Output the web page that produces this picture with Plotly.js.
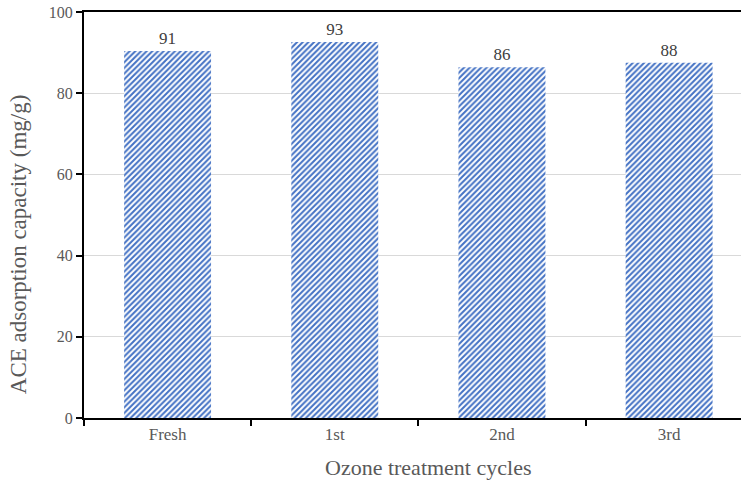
<!DOCTYPE html>
<html>
<head>
<meta charset="utf-8">
<script src="https://cdn.plot.ly/plotly-3.0.1.min.js"></script>
<style>html,body{margin:0;padding:0;background:#fff;}#chart{width:741px;height:488px;}</style>
</head>
<body>
<div id="chart"></div>
<script>
const categories = ["Fresh", "1st", "2nd", "3rd"];
const capacity = [90.4, 92.6, 86.4, 87.5];
const valueLabels = ["91", "93", "86", "88"];
const yTicks = [0, 20, 40, 60, 80, 100];
const xTitle = "Ozone treatment cycles";
const yTitle = "ACE adsorption capacity (mg/g)";

const serif = "Liberation Serif, Times New Roman, serif";

const trace = {
  type: "bar",
  x: categories,
  y: capacity,
  text: valueLabels,
  textposition: "outside",
  cliponaxis: false,
  textfont: {family: serif, size: 17, color: "#404040"},
  width: 0.52,
  marker: {
    color: "#ffffff",
    line: {width: 0},
    pattern: {shape: "/", fgcolor: "#4472C4", bgcolor: "#ffffff", size: 4, solidity: 0.5}
  },
  hoverinfo: "skip"
};

const layout = {
  width: 741, height: 488,
  margin: {l: 84, r: 0, t: 12, b: 70},
  paper_bgcolor: "#fff", plot_bgcolor: "#fff",
  showlegend: false,
  font: {family: serif, color: "#595959"},
  xaxis: {
    type: "category",
    range: [-0.5, 3.43],
    showline: true, linecolor: "#000", linewidth: 2, mirror: true,
    ticks: "outside", tickson: "boundaries", ticklen: 6, tickcolor: "#000", tickwidth: 2,
    showgrid: false,
    tickfont: {family: serif, size: 17, color: "#595959"}
  },
  yaxis: {
    range: [0, 100],
    tickvals: yTicks,
    showline: true, linecolor: "#000", linewidth: 2, mirror: true,
    ticks: "outside", ticklen: 6, tickcolor: "#000", tickwidth: 2,
    showgrid: true, gridcolor: "#d9d9d9", gridwidth: 1,
    zeroline: false,
    tickfont: {family: serif, size: 16, color: "#595959"}
  },
  annotations: [
    {text: xTitle, xref: "paper", yref: "paper", x: 0.5236, y: -0.1207,
     xanchor: "center", yanchor: "middle", showarrow: false,
     font: {family: serif, size: 22, color: "#595959"}},
    {text: yTitle, xref: "paper", yref: "paper", x: -0.1005, y: 0.428, textangle: -90,
     xanchor: "center", yanchor: "middle", showarrow: false,
     font: {family: serif, size: 23, color: "#595959"}}
  ]
};

Plotly.newPlot("chart", [trace], layout, {staticPlot: true, displayModeBar: false});
</script>
</body>
</html>
